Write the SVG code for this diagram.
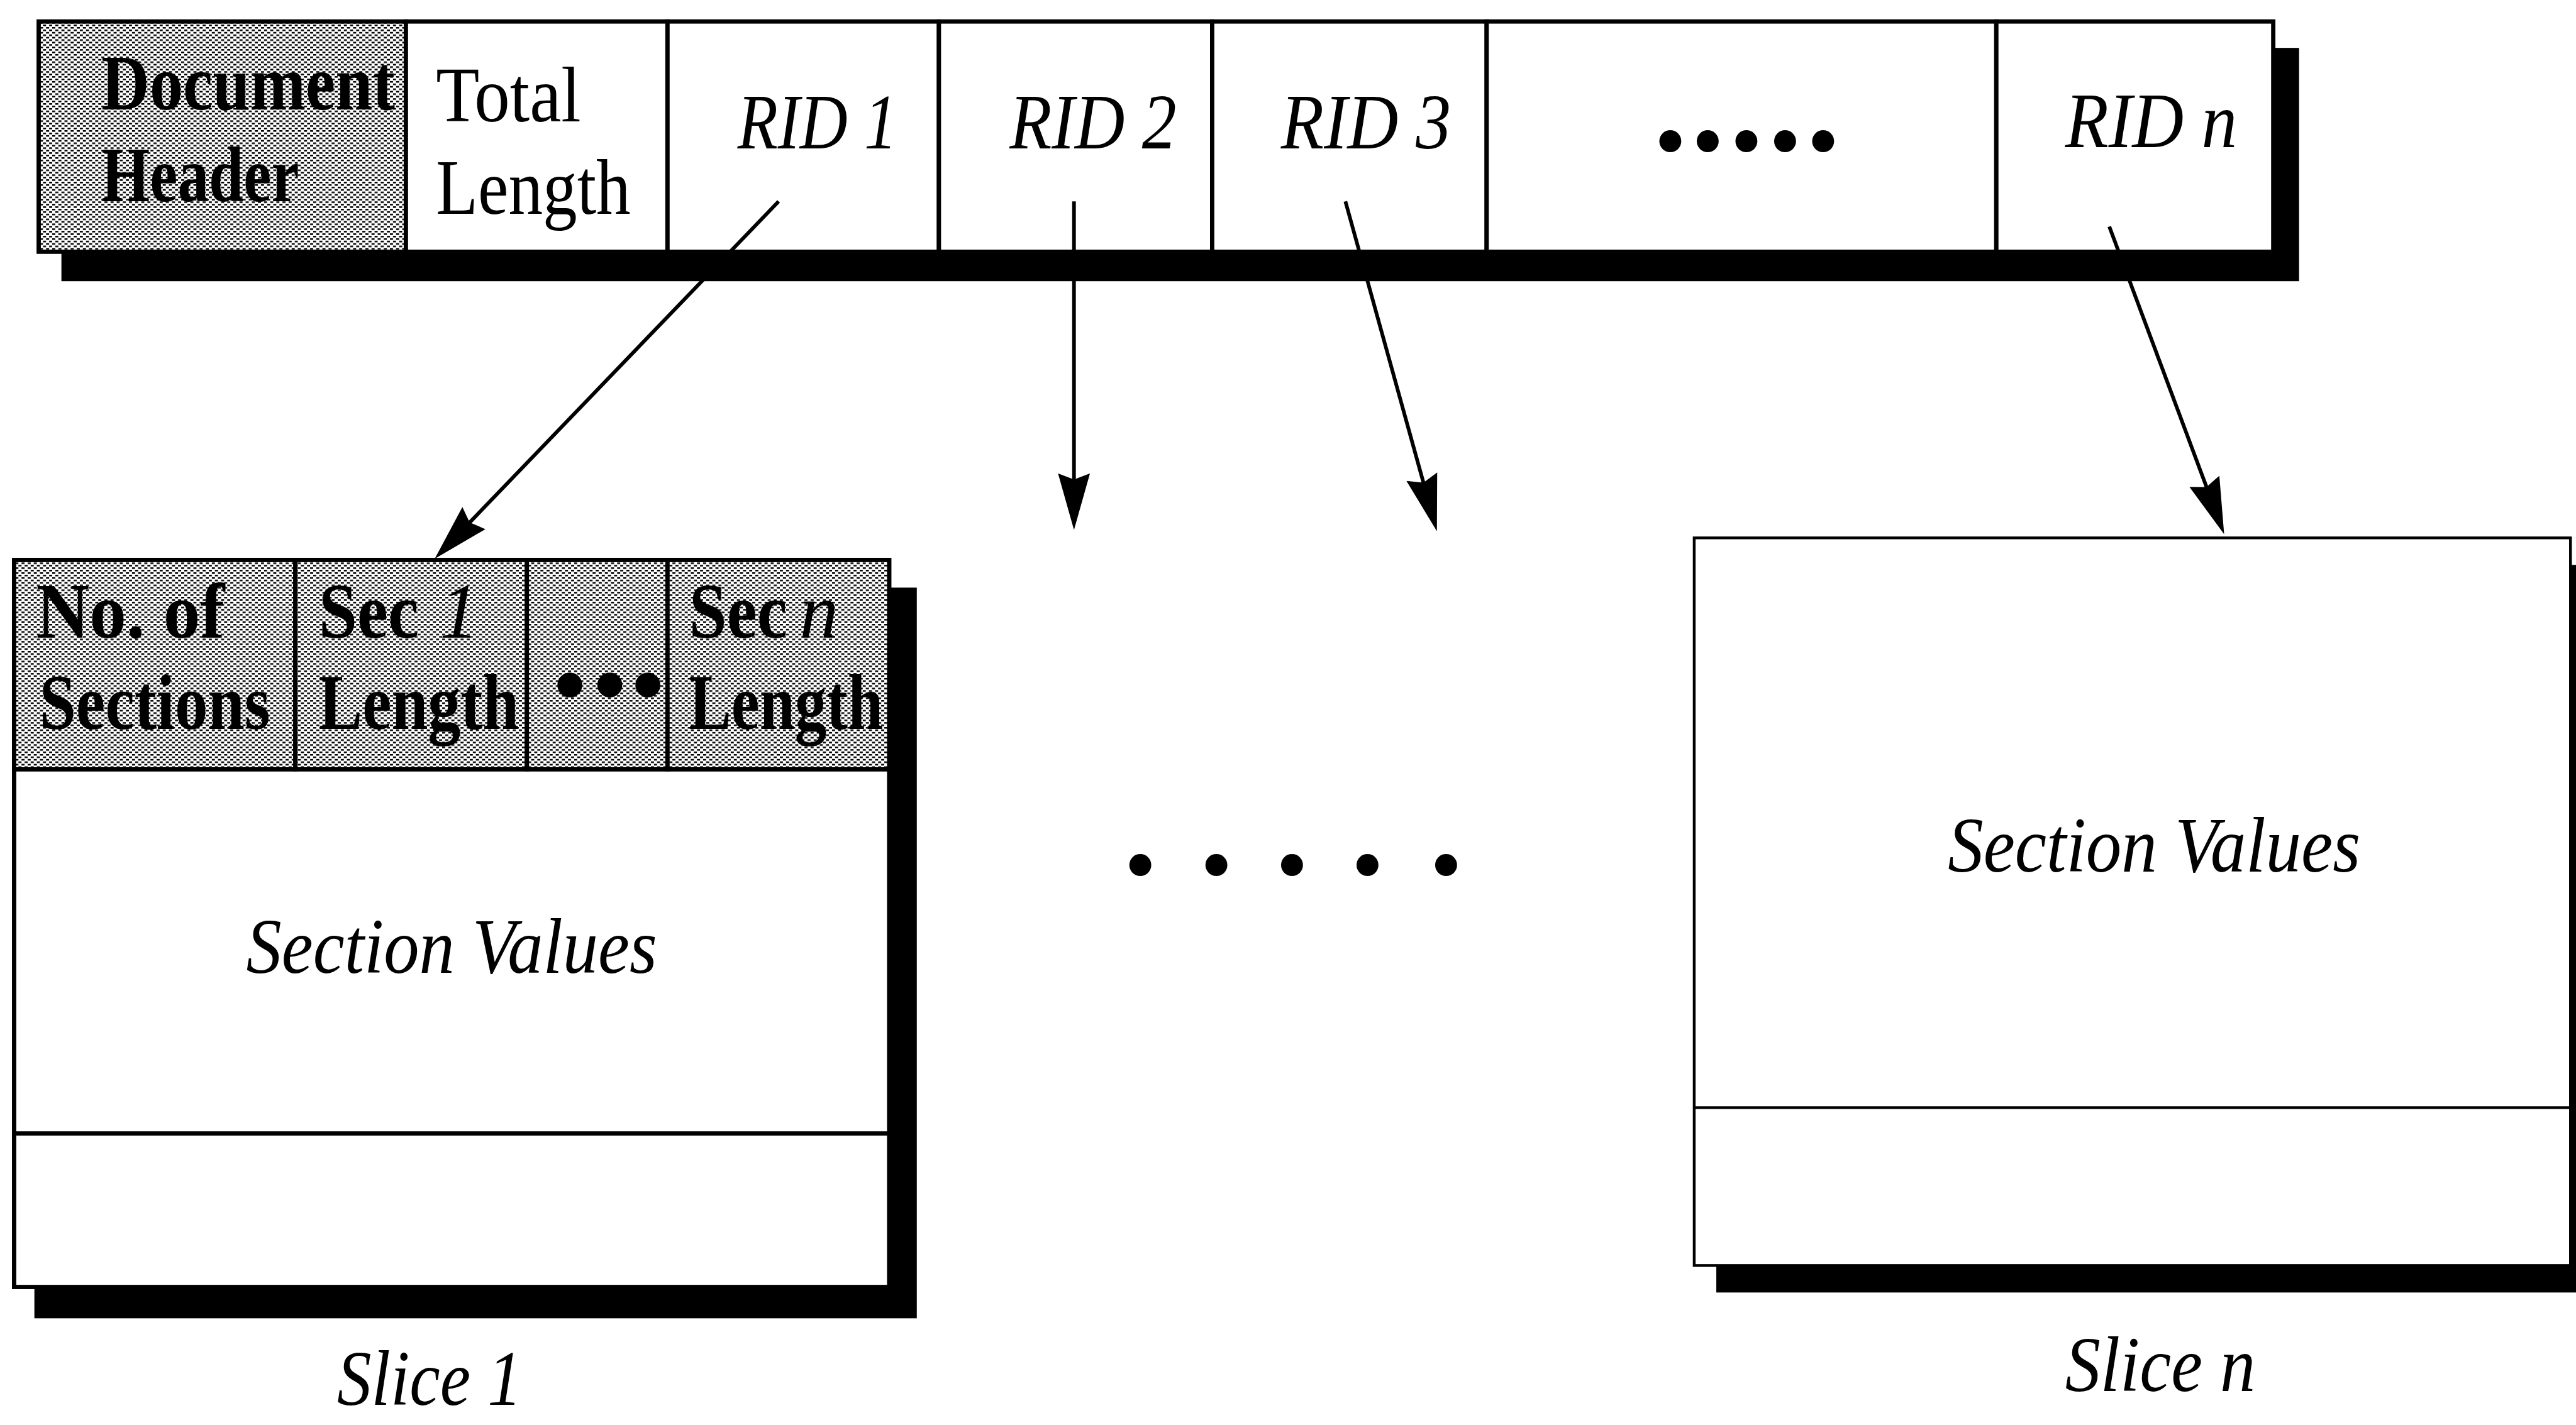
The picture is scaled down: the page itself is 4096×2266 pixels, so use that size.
<svg xmlns="http://www.w3.org/2000/svg" width="4096" height="2266" viewBox="0 0 4096 2266">
<defs>
  <pattern id="halftone" width="10" height="8" patternUnits="userSpaceOnUse">
    <rect width="10" height="8" fill="#ffffff"/>
    <rect x="0" y="0" width="5" height="2.6" fill="#000000"/>
    <rect x="5" y="4" width="5" height="2.6" fill="#000000"/>
  </pattern>
  <marker id="arrow" markerUnits="userSpaceOnUse" viewBox="0 0 100 60" markerWidth="100" markerHeight="60" refX="52" refY="27" orient="auto">
    <path d="M0,1 L92,27 L0,53 L10,27 Z" fill="#000000"/>
  </marker>
  <style>
    .cell { stroke:#000; stroke-width:7; }
    .thin { stroke:#000; stroke-width:4.5; }
    .white { fill:#fff; }
    .gray { fill:url(#halftone); }
    .shadow { fill:#000; stroke:none; }
    .t { font-family:"Liberation Serif","Times New Roman",serif; font-size:127px; fill:#000; }
    .bold { font-weight:bold; }
    .ital { font-style:italic; }
    .dot { font-family:"Liberation Serif","Times New Roman",serif; font-size:150px; fill:#000; text-anchor:middle; }
    .conn { stroke:#000; stroke-width:6; fill:none; marker-end:url(#arrow); }
  </style>
</defs>
<rect width="4096" height="2266" fill="#ffffff"/>
<g transform="scale(0.9764)">
  <!-- top record bar -->
  <g id="record-bar">
    <rect class="shadow" x="100" y="78" width="3644" height="380"/>
    <g id="doc-header">
      <rect class="cell gray" x="63" y="35" width="598" height="375"/>
      <text class="t bold" x="165" y="178" textLength="478" lengthAdjust="spacingAndGlyphs">Document</text>
      <text class="t bold" x="165" y="328" textLength="322" lengthAdjust="spacingAndGlyphs">Header</text>
    </g>
    <g id="total-length">
      <rect class="cell white" x="661" y="35" width="426" height="375"/>
      <text class="t" x="710" y="198" textLength="236" lengthAdjust="spacingAndGlyphs">Total</text>
      <text class="t" x="710" y="348" textLength="317" lengthAdjust="spacingAndGlyphs">Length</text>
    </g>
    <g id="rid1">
      <rect class="cell white" x="1087" y="35" width="442" height="375"/>
      <text class="t ital" x="1201" y="242" textLength="260" lengthAdjust="spacingAndGlyphs">RID 1</text>
    </g>
    <g id="rid2">
      <rect class="cell white" x="1529" y="35" width="445" height="375"/>
      <text class="t ital" x="1644" y="242" textLength="272" lengthAdjust="spacingAndGlyphs">RID 2</text>
    </g>
    <g id="rid3">
      <rect class="cell white" x="1974" y="35" width="447" height="375"/>
      <text class="t ital" x="2086" y="242" textLength="277" lengthAdjust="spacingAndGlyphs">RID 3</text>
    </g>
    <g id="rid-more">
      <rect class="cell white" x="2421" y="35" width="830" height="375"/>
      <text class="dot" x="2720 2781 2844 2907 2969" y="280">•••••</text>
    </g>
    <g id="ridn">
      <rect class="cell white" x="3251" y="35" width="451" height="375"/>
      <text class="t ital" x="3363" y="240" textLength="280" lengthAdjust="spacingAndGlyphs">RID n</text>
    </g>
  </g>

  <!-- slice 1 -->
  <g id="slice1">
    <rect class="shadow" x="56" y="957" width="1437" height="1190"/>
    <rect class="cell white" x="23" y="912" width="1425" height="1184"/>
    <rect class="cell gray" x="23" y="912" width="458" height="341"/>
    <rect class="cell gray" x="481" y="912" width="377" height="341"/>
    <rect class="cell gray" x="858" y="912" width="229" height="341"/>
    <rect class="cell gray" x="1087" y="912" width="361" height="341"/>
    <line class="cell" x1="23" y1="1846" x2="1448" y2="1846"/>
    <text class="t bold" x="59" y="1038" textLength="307" lengthAdjust="spacingAndGlyphs">No. of</text>
    <text class="t bold" x="64" y="1187" textLength="376" lengthAdjust="spacingAndGlyphs">Sections</text>
    <text class="t bold" x="519" y="1038"><tspan textLength="163" lengthAdjust="spacingAndGlyphs">Sec</tspan><tspan x="716" class="ital" font-weight="normal">1</tspan></text>
    <text class="t bold" x="519" y="1187" textLength="326" lengthAdjust="spacingAndGlyphs">Length</text>
    <text class="dot bold" x="928 993 1055" y="1166" font-size="170">•••</text>
    <text class="t bold" x="1122" y="1038"><tspan textLength="160" lengthAdjust="spacingAndGlyphs">Sec</tspan><tspan x="1302" class="ital" font-weight="normal">n</tspan></text>
    <text class="t bold" x="1122" y="1187" textLength="316" lengthAdjust="spacingAndGlyphs">Length</text>
    <text class="t ital" x="401" y="1584" textLength="669" lengthAdjust="spacingAndGlyphs">Section Values</text>
    <text class="t ital" x="549" y="2288" textLength="301" lengthAdjust="spacingAndGlyphs">Slice 1</text>
  </g>

  <!-- middle ellipsis -->
  <g id="ellipsis">
    <text class="dot" x="1857 1981 2104 2227 2355" y="1458">•••••</text>
  </g>

  <!-- slice n -->
  <g id="slice-n">
    <rect class="shadow" x="2795" y="920" width="1427" height="1185"/>
    <rect class="thin white" x="2759" y="876" width="1427" height="1185"/>
    <line class="thin" x1="2759" y1="1804" x2="4186" y2="1804"/>
    <text class="t ital" x="3172" y="1419" textLength="672" lengthAdjust="spacingAndGlyphs">Section Values</text>
    <text class="t ital" x="3363" y="2265" textLength="310" lengthAdjust="spacingAndGlyphs">Slice n</text>
  </g>

  <!-- connectors -->
  <g id="connectors">
    <line class="conn" x1="1268" y1="328" x2="735.7" y2="881.2"/>
    <line class="conn" x1="1749" y1="328" x2="1749" y2="823"/>
    <line class="conn" x1="2191" y1="328" x2="2329.3" y2="826.5"/>
    <line class="conn" x1="3435" y1="369" x2="3608" y2="832.5"/>
  </g>
</g>
</svg>
